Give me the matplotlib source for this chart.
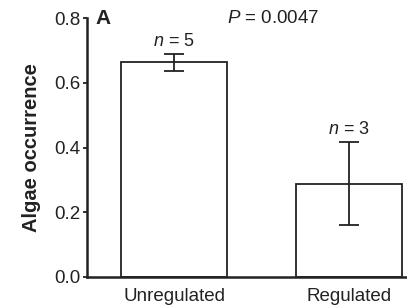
import matplotlib
matplotlib.use("Agg")
import matplotlib.pyplot as plt

categories = ["Unregulated", "Regulated"]
values = [0.664, 0.288]
errors = [0.026, 0.128]
n_labels = ["$\\it{n}$ = 5", "$\\it{n}$ = 3"]
yticks = [0.0, 0.2, 0.4, 0.6, 0.8]

plt.rcParams['font.family'] = ['Liberation Sans', 'DejaVu Sans']
plt.rcParams['mathtext.fontset'] = 'custom'
plt.rcParams['mathtext.it'] = 'Liberation Sans:italic'
plt.rcParams['mathtext.rm'] = 'Liberation Sans'

fig = plt.figure(figsize=(4.07, 3.07), dpi=100)
ax = fig.add_axes([0.214, 0.098, 0.786, 0.843])

x = [0, 1]
ax.bar(x, values, width=0.606, color='white', edgecolor='#222222', linewidth=1.3, zorder=2)
ax.errorbar(x, values, yerr=errors, fmt='none', ecolor='#222222', elinewidth=1.3,
            capsize=7.5, capthick=1.3, zorder=3)
for xi, v, e, lab in zip(x, values, errors, n_labels):
    ax.text(xi, v + e + 0.012, lab, ha='center', va='bottom', fontsize=13, color='#222222')

ax.set_xlim(-0.497, 1.33)
ax.set_ylim(0, 0.8)
ax.set_yticks(yticks)
ax.set_yticklabels([f"{t:.1f}" for t in yticks])
ax.set_xticks(x)
ax.set_xticklabels(categories)
ax.tick_params(axis='x', length=0, labelsize=13.5, pad=8, colors='#222222')
ax.tick_params(axis='y', length=3, width=1.3, labelsize=13.5, pad=2, colors='#222222')
for s in ['top', 'right']:
    ax.spines[s].set_visible(False)
for s in ['left', 'bottom']:
    ax.spines[s].set_linewidth(1.8)
    ax.spines[s].set_color('#222222')
ax.set_ylabel("Algae occurrence", fontsize=14.5, fontweight='bold', labelpad=9, color='#222222')

ax.text(-0.45, 0.8, "A", fontsize=15, fontweight='bold', ha='left', va='center', color='#222222')
ax.text(0.3, 0.8, "$\\it{P}$ = 0.0047", fontsize=13.5, ha='left', va='center', color='#222222')

fig.savefig("out.png", dpi=100)
